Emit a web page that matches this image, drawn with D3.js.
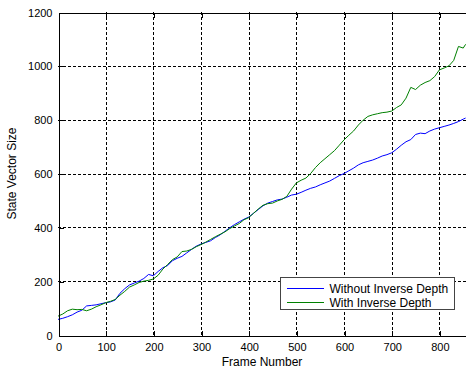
<!DOCTYPE html>
<html>
<head>
<meta charset="utf-8">
<script src="https://cdn.jsdelivr.net/npm/d3@7"></script>
<style>
  body { margin: 0; background: #fff; }
  text { font-family: "Liberation Sans", Arial, sans-serif; }
</style>
</head>
<body>
<div id="chart_div"></div>
<script>
// chart data
var frames = [0, 10, 20, 30, 40, 50, 60, 70, 80, 90,
  100, 110, 120, 130, 140, 150, 160, 170, 180, 190,
  200, 210, 220, 230, 240, 250, 260, 270, 280, 290,
  300, 310, 320, 330, 340, 350, 360, 370, 380, 390,
  400, 410, 420, 430, 440, 450, 460, 470, 480, 490,
  500, 510, 520, 530, 540, 550, 560, 570, 580, 590,
  600, 610, 620, 630, 640, 650, 660, 670, 680, 690,
  700, 710, 720, 730, 740, 750, 760, 770, 780, 790,
  800, 810, 820, 830, 840, 850, 855];

var withoutInverseDepth = [58, 62, 68, 75, 85, 92, 108, 110, 112, 116,
  120, 123, 130, 155, 172, 186, 193, 200, 210, 225,
  220, 236, 250, 258, 276, 285, 292, 305, 318, 330,
  338, 344, 350, 362, 372, 385, 398, 410, 420, 430,
  438, 452, 466, 480, 490, 496, 502, 505, 512, 520,
  523, 530, 538, 545, 550, 558, 565, 572, 582, 592,
  600, 610, 620, 632, 640, 645, 650, 657, 665, 670,
  677, 690, 705, 718, 726, 745, 750, 748, 758, 765,
  770, 775, 780, 786, 793, 802, 806];

var withInverseDepth = [70, 78, 90, 96, 94, 95, 90, 96, 105, 112,
  120, 125, 132, 148, 162, 178, 186, 195, 200, 203,
  208, 222, 245, 262, 280, 290, 310, 312, 318, 328,
  336, 345, 355, 365, 374, 383, 395, 405, 414, 428,
  436, 452, 468, 482, 488, 490, 498, 504, 515, 542,
  565, 575, 583, 600, 622, 640, 655, 670, 685, 705,
  725, 742, 758, 780, 798, 812, 818, 822, 826, 828,
  832, 845, 855, 880, 920, 912, 928, 938, 945, 960,
  985, 992, 1000, 1020, 1072, 1066, 1080];

var xTicks = [0, 100, 200, 300, 400, 500, 600, 700, 800];
var yTicks = [0, 200, 400, 600, 800, 1000, 1200];
var seriesNames = ["Without Inverse Depth", "With Inverse Depth"];
var seriesColors = ["#0000ff", "#008000"];

var W = 466, H = 368;
var margin = { top: 12, left: 58 };
var plotRight = 468, plotBottom = 335;

var svg = d3.select("#chart_div")
  .append("svg")
  .attr("width", W)
  .attr("height", H);

var x = d3.scaleLinear().domain([0, 860]).range([margin.left, plotRight]);
var y = d3.scaleLinear().domain([0, 1200]).range([plotBottom, margin.top]);

// grid lines
var grid = svg.append("g")
  .attr("stroke", "#000")
  .attr("stroke-width", 1)
  .attr("stroke-dasharray", "3,2")
  .attr("shape-rendering", "crispEdges");

grid.selectAll(".vgrid")
  .data(xTicks.slice(1))
  .enter()
  .append("line")
  .attr("x1", function(d) { return Math.round(x(d)) + 0.5; })
  .attr("x2", function(d) { return Math.round(x(d)) + 0.5; })
  .attr("y1", y(1200))
  .attr("y2", y(0));

grid.selectAll(".hgrid")
  .data(yTicks.slice(1, -1))
  .enter()
  .append("line")
  .attr("y1", function(d) { return Math.round(y(d)) + 0.5; })
  .attr("y2", function(d) { return Math.round(y(d)) + 0.5; })
  .attr("x1", x(0))
  .attr("x2", plotRight);

// data lines
var line = d3.line()
  .x(function(d, i) { return x(frames[i]); })
  .y(function(d) { return y(d); });

[withoutInverseDepth, withInverseDepth].forEach(function(series, k) {
  svg.append("path")
    .datum(series)
    .attr("fill", "none")
    .attr("stroke", seriesColors[k])
    .attr("stroke-width", 1)
    .attr("d", line);
});

// axes (ticks point inward)
var xAxis = svg.append("g")
  .attr("transform", "translate(0.5," + (plotBottom + 0.5) + ")")
  .call(d3.axisBottom(x).tickValues(xTicks).tickFormat(d3.format("d"))
    .tickSize(-5).tickPadding(8).tickSizeOuter(0));

var xTop = svg.append("g")
  .attr("transform", "translate(0.5," + (margin.top + 0.5) + ")")
  .call(d3.axisTop(x).tickValues(xTicks).tickSize(-5).tickFormat("").tickSizeOuter(0));

var yAxis = svg.append("g")
  .attr("transform", "translate(" + (margin.left + 0.5) + ",0.5)")
  .call(d3.axisLeft(y).tickValues(yTicks).tickFormat(d3.format("d"))
    .tickSize(-5).tickPadding(6).tickSizeOuter(0));

[xAxis, xTop, yAxis].forEach(function(g) {
  g.attr("shape-rendering", "crispEdges");
  g.select(".domain").attr("stroke", "#000");
  g.selectAll(".tick line").attr("stroke", "#000");
  g.selectAll("text")
    .attr("font-family", "'Liberation Sans', Arial, sans-serif")
    .attr("font-size", "11px")
    .attr("fill", "#000");
});

// axis titles
svg.append("text")
  .attr("x", 262)
  .attr("y", 366)
  .attr("text-anchor", "middle")
  .attr("font-size", "12px")
  .text("Frame Number");

svg.append("text")
  .attr("transform", "translate(16," + ((margin.top + plotBottom) / 2) + ") rotate(-90)")
  .attr("text-anchor", "middle")
  .attr("font-size", "12px")
  .text("State Vector Size");

// legend
var legend = svg.append("g").attr("transform", "translate(280.5,277.5)");
legend.append("rect")
  .attr("width", 174)
  .attr("height", 32)
  .attr("fill", "#fff")
  .attr("stroke", "#444")
  .attr("shape-rendering", "crispEdges");

seriesNames.forEach(function(name, i) {
  var ly = 11 + i * 14;
  legend.append("line")
    .attr("x1", 6).attr("x2", 43)
    .attr("y1", ly).attr("y2", ly)
    .attr("stroke", seriesColors[i])
    .attr("shape-rendering", "crispEdges");
  legend.append("text")
    .attr("x", 49)
    .attr("y", ly + 4)
    .attr("font-size", "12px")
    .text(name);
});
</script>
</body>
</html>
